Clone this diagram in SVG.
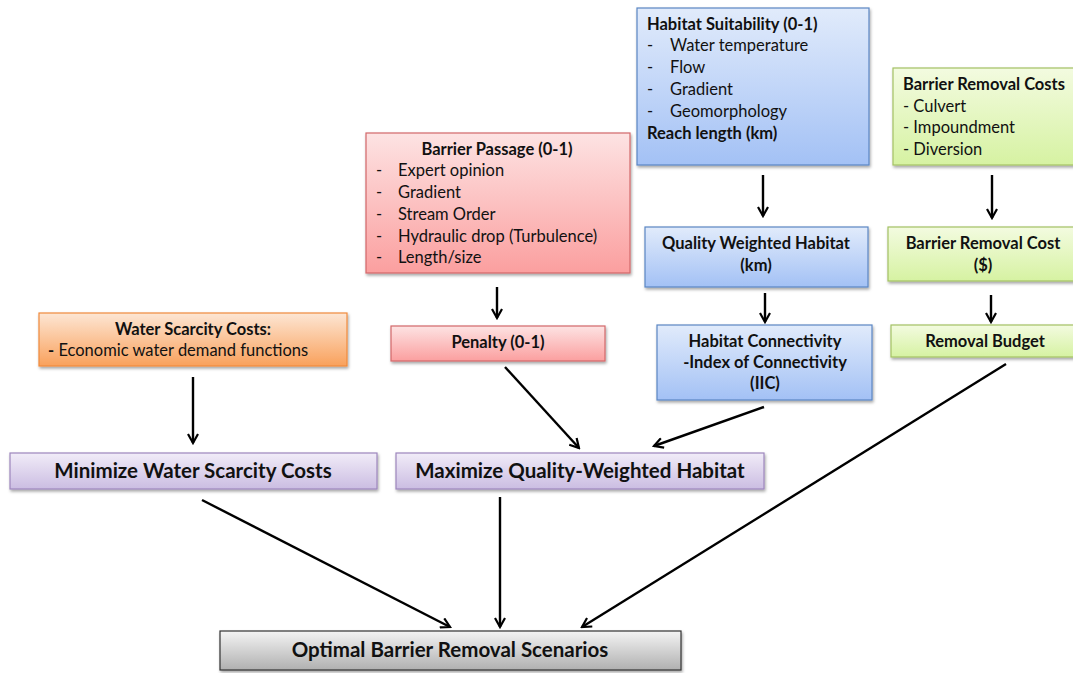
<svg xmlns="http://www.w3.org/2000/svg" width="1073" height="673" viewBox="0 0 1073 673">
<defs>
<linearGradient id="gBlue" x1="0" y1="0" x2="0" y2="1"><stop offset="0" stop-color="#e1ebfb"/><stop offset="1" stop-color="#a3c1f5"/></linearGradient>
<linearGradient id="gRed" x1="0" y1="0" x2="0" y2="1"><stop offset="0" stop-color="#fde3e3"/><stop offset="1" stop-color="#fb9f9f"/></linearGradient>
<linearGradient id="gGreen" x1="0" y1="0" x2="0" y2="1"><stop offset="0" stop-color="#f3fbe0"/><stop offset="1" stop-color="#d6f2a2"/></linearGradient>
<linearGradient id="gOrange" x1="0" y1="0" x2="0" y2="1"><stop offset="0" stop-color="#fde6d4"/><stop offset="1" stop-color="#f9a15c"/></linearGradient>
<linearGradient id="gPurple" x1="0" y1="0" x2="0" y2="1"><stop offset="0" stop-color="#f1ecf8"/><stop offset="1" stop-color="#cbbde2"/></linearGradient>
<linearGradient id="gGrey" x1="0" y1="0" x2="0" y2="1"><stop offset="0" stop-color="#f4f4f4"/><stop offset="1" stop-color="#b0b0b0"/></linearGradient>
<filter id="sh" x="-10%" y="-10%" width="120%" height="130%"><feDropShadow dx="1" dy="2" stdDeviation="1.5" flood-color="#000" flood-opacity="0.35"/></filter>
<marker id="ah" viewBox="0 0 12 12" refX="10" refY="6" markerWidth="12" markerHeight="12" markerUnits="userSpaceOnUse" orient="auto"><path d="M1,1 L10,6 L1,11" fill="none" stroke="#000" stroke-width="2.2"/></marker>
</defs>
<style>
text{font-family:"Lato","Liberation Sans",sans-serif;fill:#111;font-size:16.5px}
.b{font-weight:bold}
.c{text-anchor:middle}
.big{font-size:20.5px;font-weight:bold}
.blue{fill:url(#gBlue);stroke:#5a86c4;stroke-width:1.2;filter:url(#sh)}
.red{fill:url(#gRed);stroke:#d2686a;stroke-width:1.2;filter:url(#sh)}
.green{fill:url(#gGreen);stroke:#a3c164;stroke-width:1.2;filter:url(#sh)}
.orange{fill:url(#gOrange);stroke:#f08a3c;stroke-width:1.2;filter:url(#sh)}
.purple{fill:url(#gPurple);stroke:#9d86bd;stroke-width:1.2;filter:url(#sh)}
.grey{fill:url(#gGrey);stroke:#333;stroke-width:1.2;filter:url(#sh)}
.e{stroke:#000;stroke-width:2.4;fill:none;marker-end:url(#ah)}
</style>
<rect width="1073" height="673" fill="#fff"/>

<g id="habitat-suitability">
<rect class="blue" x="637" y="8" width="232" height="157"/>
<text class="b" x="647" y="30">Habitat Suitability (0-1)</text>
<text x="647" y="51">-</text><text x="670" y="51">Water temperature</text>
<text x="647" y="73">-</text><text x="670" y="73">Flow</text>
<text x="647" y="95">-</text><text x="670" y="95">Gradient</text>
<text x="647" y="117">-</text><text x="670" y="117">Geomorphology</text>
<text class="b" x="647" y="139">Reach length (km)</text>
</g>

<g id="barrier-removal-costs">
<rect class="green" x="893" y="68" width="185" height="97"/>
<text class="b" x="903" y="90">Barrier Removal Costs</text>
<text x="903" y="112">- Culvert</text>
<text x="903" y="133">- Impoundment</text>
<text x="903" y="155">- Diversion</text>
</g>

<g id="barrier-passage">
<rect class="red" x="366" y="133" width="264" height="140"/>
<text class="b c" x="497" y="155">Barrier Passage (0-1)</text>
<text x="376" y="176">-</text><text x="398" y="176">Expert opinion</text>
<text x="376" y="198">-</text><text x="398" y="198">Gradient</text>
<text x="376" y="220">-</text><text x="398" y="220">Stream Order</text>
<text x="376" y="242">-</text><text x="398" y="242">Hydraulic drop (Turbulence)</text>
<text x="376" y="263">-</text><text x="398" y="263">Length/size</text>
</g>

<g id="quality-weighted-habitat">
<rect class="blue" x="645" y="227" width="223" height="60"/>
<text class="b c" x="756" y="249">Quality Weighted Habitat</text>
<text class="b c" x="756" y="271">(km)</text>
</g>

<g id="barrier-removal-cost">
<rect class="green" x="888" y="227" width="190" height="54"/>
<text class="b c" x="983" y="249">Barrier Removal Cost</text>
<text class="b c" x="983" y="271">($)</text>
</g>

<g id="water-scarcity-costs">
<rect class="orange" x="39" y="313" width="308" height="53"/>
<text class="b c" x="193" y="335">Water Scarcity Costs:</text>
<text x="48" y="356"><tspan class="b">-</tspan> Economic water demand functions</text>
</g>

<g id="penalty">
<rect class="red" x="391" y="326" width="214" height="35"/>
<text class="b c" x="498" y="348">Penalty (0-1)</text>
</g>

<g id="habitat-connectivity">
<rect class="blue" x="657" y="325" width="215" height="75"/>
<text class="b c" x="765" y="347">Habitat Connectivity</text>
<text class="b c" x="765" y="368">-Index of Connectivity</text>
<text class="b c" x="765" y="389">(IIC)</text>
</g>

<g id="removal-budget">
<rect class="green" x="891" y="325" width="187" height="32"/>
<text class="b c" x="985" y="347">Removal Budget</text>
</g>

<g id="minimize-water-scarcity">
<rect class="purple" x="10" y="453" width="367" height="36"/>
<text class="big c" x="193" y="478">Minimize Water Scarcity Costs</text>
</g>

<g id="maximize-habitat">
<rect class="purple" x="396" y="453" width="368" height="36"/>
<text class="big c" x="580" y="478">Maximize Quality-Weighted Habitat</text>
</g>

<g id="optimal-scenarios">
<rect class="grey" x="220" y="631" width="461" height="39"/>
<text class="big c" x="450" y="657">Optimal Barrier Removal Scenarios</text>
</g>

<g id="connectors">
<line class="e" x1="763" y1="175" x2="763" y2="216"/>
<line class="e" x1="992" y1="175" x2="992" y2="218"/>
<line class="e" x1="497" y1="287" x2="497" y2="318"/>
<line class="e" x1="765" y1="293" x2="765" y2="322"/>
<line class="e" x1="991" y1="295" x2="991" y2="322"/>
<line class="e" x1="193" y1="377" x2="193" y2="443"/>
<line class="e" x1="505" y1="367" x2="579" y2="448"/>
<line class="e" x1="764" y1="407" x2="654" y2="446"/>
<line class="e" x1="1006" y1="364" x2="582" y2="627"/>
<line class="e" x1="202" y1="500" x2="450" y2="627"/>
<line class="e" x1="500" y1="497" x2="500" y2="627"/>
</g>
</svg>
